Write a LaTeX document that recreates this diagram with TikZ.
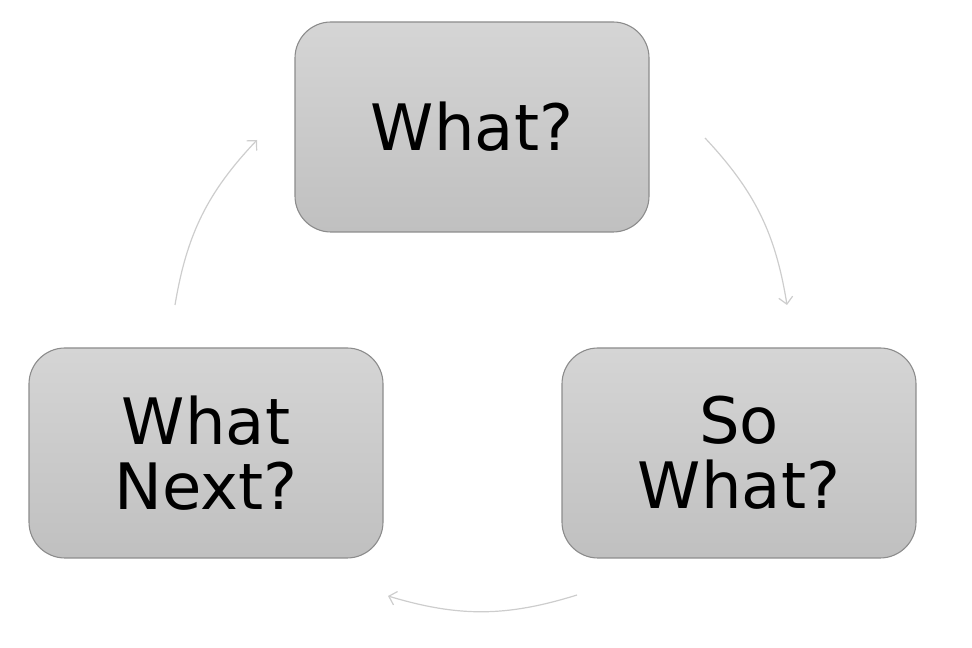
\documentclass[tikz,border=0pt]{standalone}
\usepackage{fontspec}
\setmainfont{DejaVu Sans}
\usetikzlibrary{arrows.meta}
\definecolor{boxtop}{RGB}{213,213,213}
\definecolor{boxbot}{RGB}{192,192,192}
\definecolor{boxline}{RGB}{140,140,140}
\definecolor{arrowgray}{RGB}{205,205,205}
\tikzset{
  stepbox/.style={draw=boxline,line width=1.1pt,rounded corners=36pt,
    top color=boxtop,bottom color=boxbot,minimum width=354pt,
    minimum height=210pt,inner sep=0pt,align=center,text=black,
    font=\fontsize{64}{65}\selectfont},
  cyclearrow/.style={draw=arrowgray,line width=1.2pt,
    -{Straight Barb[length=7pt,width=14pt]},bend left=17}
}
\begin{document}
\begin{tikzpicture}[x=1pt,y=1pt] % begins the tikz environment
    \useasboundingbox (0,0) rectangle (972,648);
    \node (what) at (472,521) [stepbox] {What?};
    \node (sowhat) at (739,195) [stepbox] {So\\What?};
    \node (next) at (206,195) [stepbox] {What\\Next?};
    \coordinate (a1s) at (705,510);
    \coordinate (a1e) at (787,343);
    \coordinate (a2s) at (577,53);
    \coordinate (a2e) at (388,52);
    \coordinate (a3s) at (175,343);
    \coordinate (a3e) at (257,508);
    \draw[cyclearrow] (a1s) to (a1e);
    \draw[cyclearrow] (a2s) to (a2e);
    \draw[cyclearrow] (a3s) to (a3e);
  \end{tikzpicture}
\end{document}
